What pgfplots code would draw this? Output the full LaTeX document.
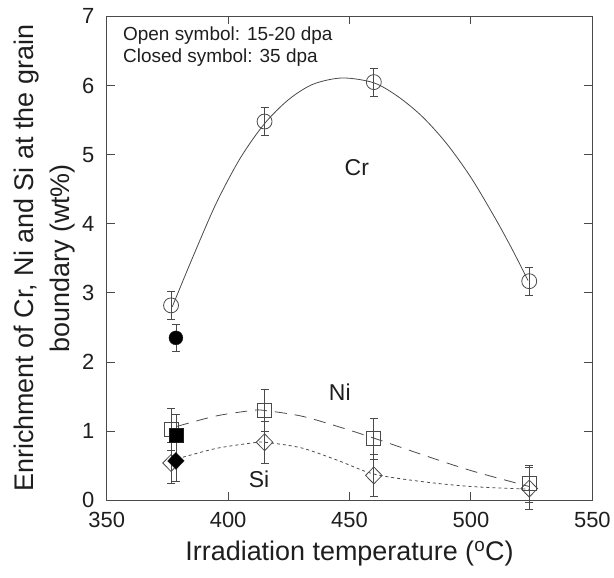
\documentclass[border=0pt]{standalone}
\usepackage{pgfplots}
\pgfplotsset{compat=1.18}
\usepackage{fontspec}
\setmainfont{Liberation Sans}
\definecolor{ln}{HTML}{4A4A4A}
\definecolor{tx}{HTML}{1E1E1E}
\begin{document}
\begin{tikzpicture}
\begin{axis}[
  name=ax,
  scale only axis,
  width=487pt, height=485.2pt,
  xmin=350, xmax=550, ymin=0, ymax=7,
  xtick={350,400,450,500,550},
  ytick={0,1,2,3,4,5,6,7},
  tick align=inside,
  major tick length=8pt,
  axis line style={ln, line width=1pt},
  tick style={ln, line width=1pt},
  /pgf/number format/assume math mode=true,
  tick label style={font=\fontsize{22}{24}\selectfont, text=tx},
  xticklabel style={yshift=-8.6pt},
  yticklabel style={xshift=-9pt},
  xlabel={Irradiation temperature (\textsuperscript{o}C)},
  ylabel={Enrichment of Cr, Ni and Si at the grain\\boundary (wt\%)},
  label style={font=\fontsize{27}{36}\selectfont, text=tx},
  ylabel style={align=center, yshift=0pt},
  xlabel style={yshift=-6.4pt},
  error bars/y dir=both,
  error bars/y explicit,
  error bars/error bar style={ln, line width=0.7pt},
  error bars/error mark options={ln, line width=0.7pt, mark size=4pt, rotate=90},
  clip=false,
]
% Cr fitted curve
\addplot[ln, line width=0.8pt, smooth, no marks, forget plot] coordinates {
 (377,2.80) (385,3.48) (395,4.29) (405,4.95) (415,5.45) (425,5.80) (435,6.02)
 (447,6.11) (460,6.04) (470,5.84) (480,5.55) (490,5.16) (500,4.67) (510,4.08) (517,3.63) (523.5,3.18)};
% Ni dashed curve
\addplot[ln, line width=0.8pt, smooth, no marks, dash pattern=on 12pt off 8pt, forget plot] coordinates {
 (379,1.07) (395,1.22) (410,1.3) (415,1.3) (430,1.22) (445,1.07) (460,0.9) (480,0.66) (500,0.43) (524,0.2)};
% Si dotted curve
\addplot[ln, line width=0.8pt, smooth, no marks, dash pattern=on 3pt off 3pt, forget plot] coordinates {
 (379,0.6) (395,0.75) (410,0.83) (415,0.84) (430,0.76) (445,0.58) (460,0.38) (480,0.27) (500,0.2) (524,0.16)};
% Cr open
\addplot[ln, only marks, mark=o, mark size=7.5pt, mark options={line width=0.8pt}] coordinates {
 (376.5,2.82) +- (0,0.2)
 (415,5.48) +- (0,0.2)
 (460,6.05) +- (0,0.2)
 (524,3.17) +- (0,0.2)};
% Cr closed
\addplot[tx, only marks, mark=*, mark size=7pt, mark options={fill=black}] coordinates {
 (378.5,2.35) +- (0,0.2)};
% Ni open
\addplot[ln, only marks, mark=square, mark size=7pt, mark options={line width=0.8pt}] coordinates {
 (376.5,1.03) +- (0,0.3)
 (415,1.30) +- (0,0.3)
 (460,0.89) +- (0,0.3)
 (524,0.24) +- (0,0.27)};
% Ni closed
\addplot[tx, only marks, mark=square*, mark size=7pt, mark options={fill=black}] coordinates {
 (378.5,0.94) +- (0,0.3)};
% Si open
\addplot[ln, only marks, mark=diamond, mark size=8.5pt, mark options={line width=0.8pt, xscale=1.3}] coordinates {
 (376.5,0.54) +- (0,0.3)
 (415,0.84) +- (0,0.3)
 (460,0.36) +- (0,0.3)
 (524,0.17) +- (0,0.3)};
% Si closed
\addplot[tx, only marks, mark=diamond*, mark size=8.5pt, mark options={fill=black, xscale=1.3}] coordinates {
 (378.5,0.57) +- (0,0.3)};
\node[anchor=north west, align=left, inner sep=0pt, text=tx, font=\fontsize{19}{23}\selectfont] at (axis cs:356.7,6.86) {Open symbol: 15-20 dpa\\Closed symbol: 35 dpa};
\node[text=tx, font=\fontsize{23}{25}\selectfont] at (axis cs:453,4.81) {Cr};
\node[text=tx, font=\fontsize{23}{25}\selectfont] at (axis cs:446,1.57) {Ni};
\node[text=tx, font=\fontsize{23}{25}\selectfont] at (axis cs:412.7,0.31) {Si};
\end{axis}
\path ([xshift=-107pt,yshift=-77.3pt]ax.south west) rectangle ([xshift=20pt,yshift=16.5pt]ax.north east);
\end{tikzpicture}
\end{document}
